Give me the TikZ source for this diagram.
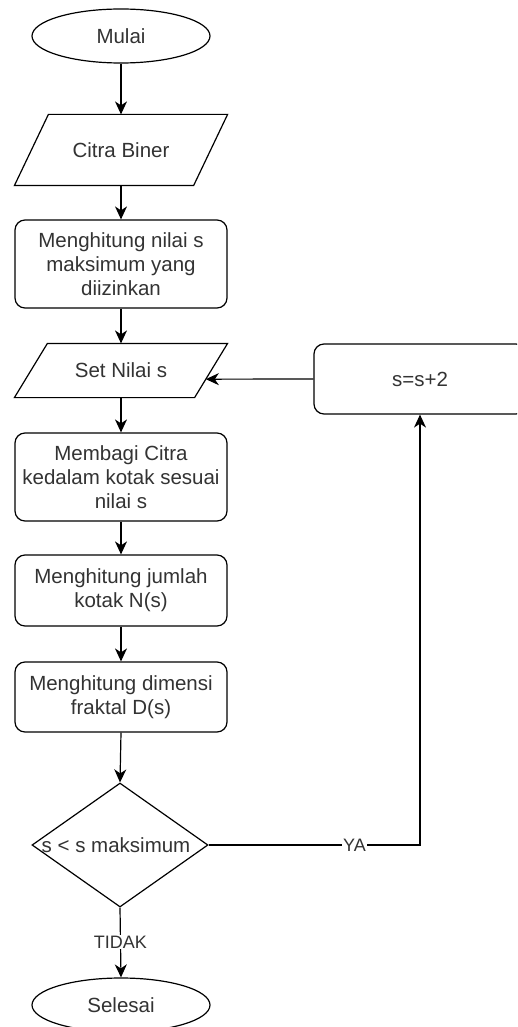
\documentclass[tikz,border=0pt]{standalone}
\usepackage{fontspec}
\setmainfont{Liberation Sans}
\usetikzlibrary{shapes.geometric,arrows.meta,calc}
\definecolor{txt}{RGB}{51,51,51}
\begin{document}
\begin{tikzpicture}[x=1pt,y=-1pt,
  base/.style={draw=black, line width=1.2pt, text=txt, font=\fontsize{20.5}{24}\selectfont, align=center, inner sep=0pt},
  term/.style={base, ellipse, minimum width=178pt, minimum height=54pt},
  io/.style={base, draw=none, rectangle, minimum width=212pt},
  proc/.style={base, rectangle, rounded corners=10pt, minimum width=212pt},
  edge/.style={draw=black, line width=1.2pt, line join=miter},
  arr/.style={-{Stealth[length=13pt,width=12pt,inset=4pt]}, line width=1.2pt, draw=black},
  lbl/.style={fill=white, text=txt, inner sep=1pt, font=\fontsize{18}{20}\selectfont}
]
\clip (0,0) rectangle (517,1027);
\fill[white] (0,0) rectangle (517,1027);

\node[term] (mulai) at (121,36) {Mulai};
\node[io, minimum height=70pt] (citra) at (121,150) {Citra Biner};
\draw[edge] (citra.south west) -- ($(citra.north west)+(34,0)$) -- (citra.north east) -- ($(citra.south east)+(-34,0)$) -- cycle;
\node[proc, minimum height=88pt] (smax) at (121,264) {Menghitung nilai s\\maksimum yang\\diizinkan};
\node[io, minimum height=53pt] (setn) at (121,370.5) {Set Nilai s};
\draw[edge] (setn.south west) -- ($(setn.north west)+(33,0)$) -- (setn.north east) -- ($(setn.south east)+(-33,0)$) -- cycle;
\coordinate (setin) at ($(setn.north east)!0.66!($(setn.south east)+(-33,0)$)$);
\node[proc, minimum height=88pt] (bagi) at (121,477) {Membagi Citra\\kedalam kotak sesuai\\nilai s};
\node[proc, minimum height=71pt] (jml) at (121,590.5) {Menghitung jumlah\\kotak N(s)};
\node[proc, minimum height=70pt] (dim) at (121,697) {Menghitung dimensi\\fraktal D(s)};
\node[base, diamond, minimum width=176pt, minimum height=124pt] (dec) at (120,845) {};
\node[text=txt, font=\fontsize{20.5}{24}\selectfont, inner sep=0pt] (dectxt) at (116,845) {s < s maksimum};
\node[term] (selesai) at (121,1005) {Selesai};
\node[proc, minimum height=70pt] (ssp) at (420,379) {s=s+2};

\draw[arr] (mulai.south) -- (citra.north);
\draw[arr] (citra.south) -- (smax.north);
\draw[arr] (smax.south) -- (setn.north);
\draw[arr] (setn.south) -- (bagi.north);
\draw[arr] (bagi.south) -- (jml.north);
\draw[arr] (jml.south) -- (dim.north);
\draw[arr] (dim.south) -- (dec.north);
\draw[arr] (dec.south) -- node[lbl, pos=0.49] {TIDAK} (selesai.north);
\draw[arr] (dec.east) -- node[lbl, pos=0.69] {YA} (dec.east -| ssp.south) -- (ssp.south);
\draw[arr] (ssp.west) -- (setin);
\end{tikzpicture}
\end{document}
